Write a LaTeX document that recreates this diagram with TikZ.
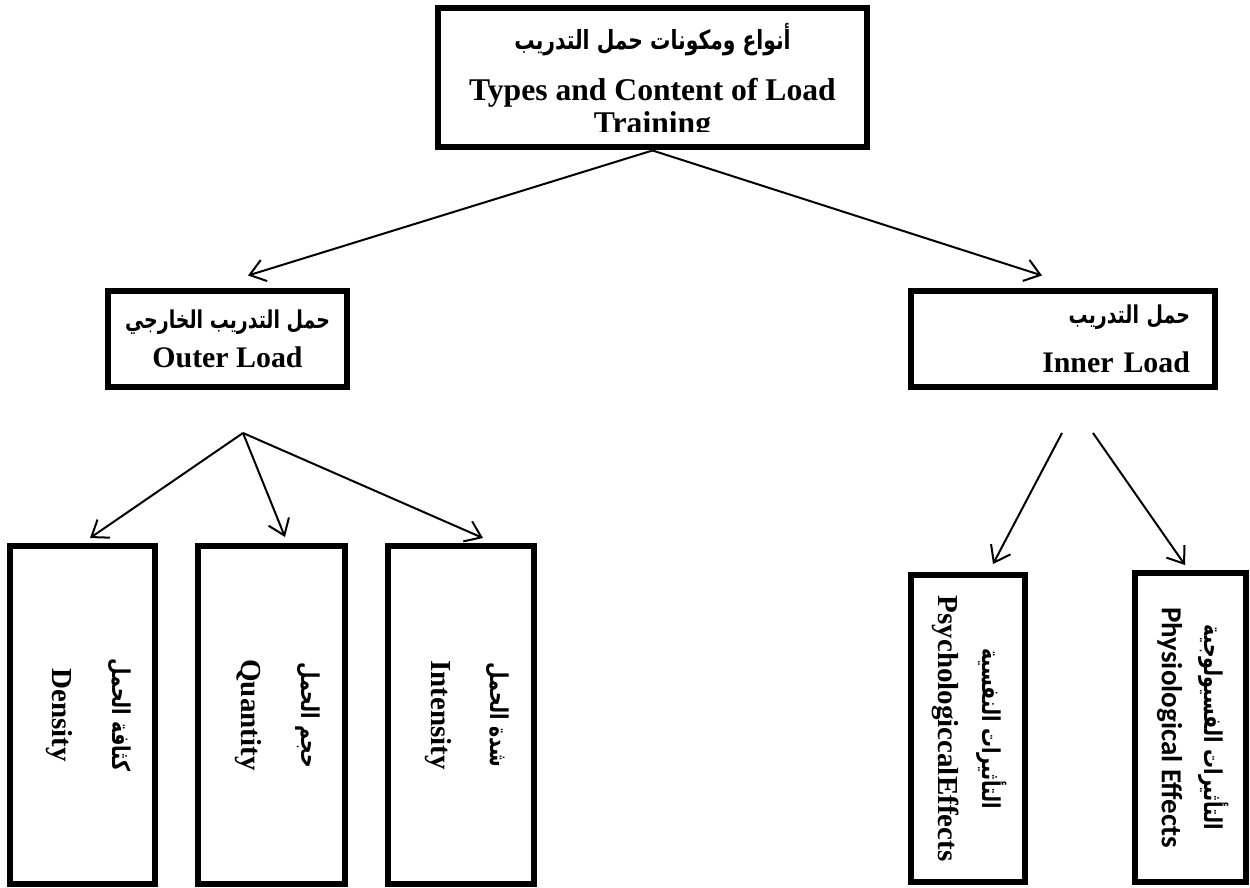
\documentclass[tikz,border=0pt]{standalone}
\usepackage{fontspec}
\setmainfont{Liberation Serif}
\newfontfamily\arabicfont[Script=Arabic]{DejaVu Sans}
\newfontfamily\sansfont{Carlito}
\TeXXeTstate=1
\usetikzlibrary{arrows.meta}
\newcommand{\artxt}[2][14]{\scalebox{0.77}[1]{\arabicfont\fontsize{#1}{#1}\selectfont\beginR #2\endR}}
\newcommand{\sidetext}[3][14pt]{\rotatebox{-90}{\begin{tabular}{@{}c@{}}#2\\[#1]#3\end{tabular}}}
\tikzset{
  box/.style={draw, line width=1.2mm, inner sep=0pt, align=center,
    font=\bfseries\fontsize{17}{20}\selectfont},
  tallbox/.style={box, minimum height=6.78cm, font=\bfseries\fontsize{16.5}{20}\selectfont},
  link/.style={-{Straight Barb[length=3mm,width=4.4mm]}, line width=0.4mm},
}

\begin{document}
\begin{tikzpicture}[x=0.02cm,y=-0.02cm]
  \useasboundingbox (0,0) rectangle (1250,888);
  % top level
  \node[box, minimum width=8.6cm, minimum height=2.8cm, font=\bfseries\fontsize{18}{21}\selectfont] (top) at (652.5,77.5)
    {\rule{0pt}{20pt}\artxt[15]{أنواع ومكونات حمل التدريب}\\[8pt] Types and Content of Load\\[-2pt] Training};
  \fill[white] ([xshift=0.13cm,yshift=0.13cm]top.south west) rectangle ([xshift=-0.13cm,yshift=0.37cm]top.south east);
  % second level
  \node[box, minimum width=4.8cm, minimum height=1.94cm] (outer) at (227.5,339)
    {\artxt{حمل التدريب الخارجي}\\[2pt] Outer Load};
  \node[box, minimum width=6.1cm, minimum height=1.94cm, text width=5.08cm, align=right] (inner) at (1063,339)
    {\artxt{حمل التدريب}\\[8pt] Inner Load\hspace*{0.15cm}};
  % outer load parts
  \node[tallbox, minimum width=2.92cm] (density) at (82.5,715)
    {\hspace*{0.28cm}\sidetext{\artxt{كثافة الحمل}}{Density}};
  \node[tallbox, minimum width=2.96cm] (quantity) at (271.5,715)
    {\hspace*{0.28cm}\sidetext{\artxt{حجم الحمل}}{Quantity}};
  \node[tallbox, minimum width=2.94cm] (intensity) at (461,715)
    {\hspace*{0.28cm}\sidetext{\artxt{شدة الحمل}}{Intensity}};
  % inner load parts
  \node[tallbox, minimum width=2.28cm, minimum height=6.16cm] (psych) at (967.5,728.5)
    {\sidetext[5pt]{\artxt{التأثيرات النفسية}}{PsychologiccalEffects}};
  \node[tallbox, minimum width=2.22cm, minimum height=6.2cm] (physio) at (1190,727.5)
    {\sidetext[4pt]{\artxt{التأثيرات الفسيولوجية}}{\sansfont Physiological Effects}};
  \coordinate (outerfork) at (243,433);
  \coordinate (innerforkL) at (1062,433);
  \coordinate (innerforkR) at (1093,433);
  \draw[link] (top.south) -- ([xshift=0.41cm,yshift=0.24cm]outer.north);
  \draw[link] (top.south) -- ([xshift=-0.42cm,yshift=0.24cm]inner.north);
  \draw[link] (outerfork) -- ([xshift=0.15cm,yshift=0.09cm]density.north);
  \draw[link] (outerfork) -- ([xshift=0.27cm,yshift=0.11cm]quantity.north);
  \draw[link] (outerfork) -- ([xshift=0.44cm,yshift=0.09cm]intensity.north);
  \draw[link] (innerforkL) -- ([xshift=0.51cm,yshift=0.15cm]psych.north);
  \draw[link] (innerforkR) -- ([xshift=-0.1cm,yshift=0.09cm]physio.north);
\end{tikzpicture}
\end{document}
